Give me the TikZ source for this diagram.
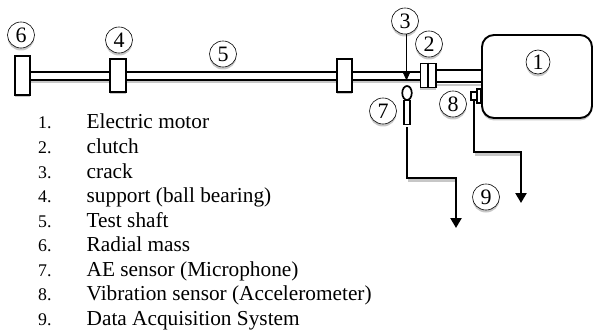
\documentclass[tikz,border=0pt]{standalone}
\usepackage{fontspec}
\setmainfont{Liberation Serif}
\usetikzlibrary{arrows.meta,shapes.geometric,shadows}
\tikzset{
  shd/.style={drop shadow={shadow xshift=0pt,shadow yshift=-2.5pt,fill=black,opacity=.22}},
  numc/.style={draw,ellipse,fill=white,line width=.6pt,inner sep=0pt,minimum width=27pt,minimum height=26pt,font=\fontsize{22}{22}\selectfont,shd},
  block/.style={draw,rectangle,fill=white,line width=1.7pt,inner sep=0pt,shd},
  shaftline/.style={line width=2pt},
  shaftshade/.style={line width=2pt,black!22},
  wire/.style={line width=2.3pt,-{Triangle[width=11pt,length=10pt]}},
  wshade/.style={line width=2.3pt,black!22},
  itemno/.style={anchor=base west,font=\fontsize{17.8}{18}\selectfont,inner sep=0pt},
  itemtx/.style={anchor=base west,font=\fontsize{21.3}{24}\selectfont,inner sep=0pt},
}
\begin{document}
\begin{tikzpicture}[x=1pt,y=-1pt]
\useasboundingbox (0,0) rectangle (593,331);
% blocks
\node[block,minimum width=15.5pt,minimum height=39pt] (mass) at (22.5,75.5) {};
\node[block,minimum width=15.5pt,minimum height=33pt] (supA) at (118,75.5) {};
\node[block,minimum width=15.5pt,minimum height=33pt] (supB) at (344.5,75.5) {};
\node[block,minimum width=15.5pt,minimum height=24pt] (clutch) at (428.2,75.5) {};
\node[draw,fill=white,line width=1.9pt,rounded corners=12pt,minimum width=110pt,minimum height=83pt,inner sep=0pt,shd] (motor) at (537,76.5) {};
% shaft shades
\draw[shaftshade] ([yshift=-6.5pt]mass.east) -- ([yshift=-6.5pt]supA.west);
\draw[shaftshade] ([yshift=-6.5pt]supA.east) -- ([yshift=-6.5pt]supB.west);
\draw[shaftshade] ([yshift=-6.5pt]supB.east) -- ([yshift=-6.5pt]clutch.west);
\draw[shaftshade] ([yshift=-9.5pt]clutch.east) -- ([yshift=-9.5pt]clutch.east -| motor.west);
% shaft lines
\draw[shaftline] ([yshift=3.5pt]mass.east) -- ([yshift=3.5pt]supA.west);
\draw[shaftline] ([yshift=-4.5pt]mass.east) -- ([yshift=-4.5pt]supA.west);
\draw[shaftline] ([yshift=3.5pt]supA.east) -- ([yshift=3.5pt]supB.west);
\draw[shaftline] ([yshift=-4.5pt]supA.east) -- ([yshift=-4.5pt]supB.west);
\draw[shaftline] ([yshift=3.5pt]supB.east) -- ([yshift=3.5pt]clutch.west);
\draw[shaftline] ([yshift=-5pt]supB.east) -- ([yshift=-5pt]clutch.west);
\draw[shaftline] ([yshift=5pt]clutch.east) -- ([yshift=5pt]clutch.east -| motor.west);
\draw[shaftline] ([yshift=-7pt]clutch.east) -- ([yshift=-7pt]clutch.east -| motor.west);
\draw[line width=1.5pt] (clutch.north) -- (clutch.south);
% sensors
\node[draw,fill=white,line width=1.7pt,ellipse,inner sep=0pt,minimum width=9.5pt,minimum height=14pt] (aehead) at (407,93) {};
\node[draw,fill=white,line width=1.3pt,inner sep=0pt,minimum width=6pt,minimum height=24pt] (aebody) at (407,112.5) {};
\node[draw,fill=white,line width=1.5pt,inner sep=0pt,minimum width=6pt,minimum height=8pt] (acc) at (474,96) {};
\node[draw,fill=white,line width=1.5pt,inner sep=0pt,minimum width=4pt,minimum height=14pt] (accbase) at (479,96) {};
% wires
\coordinate (tipA) at (456,228);
\coordinate (tipB) at (521,203);
\coordinate (startA) at (407,127);
\draw[wshade] (408,180.5) -- (456,180.5);
\draw[wshade] (475,154.5) -- (521,154.5);
\draw[wire] (startA) |- (456,178) -- (tipA);
\draw[wire] (acc.south) |- (521,152) -- (tipB);
% numbered circles
\node[numc] (n6) at (21,35) {6};
\node[numc] (n4) at (119,40) {4};
\node[numc] (n5) at (223,54) {5};
\node[numc] (n3) at (405,21) {3};
\node[numc] (n2) at (429,44) {2};
\node[numc,minimum width=24pt,minimum height=24pt] (n1) at (538,62) {1};
\node[numc] (n7) at (383,111) {7};
\node[numc] (n8) at (453,104) {8};
\node[numc] (n9) at (486,197) {9};
% crack pointer
\coordinate (crack) at (406.5,80.5);
\draw[line width=.8pt,-{Triangle[width=7pt,length=8pt]}] (n3.south -| crack) -- (crack);
% legend
\foreach \n/\t/\y in {1/Electric motor/129,2/clutch/153.5,3/crack/178,4/support (ball bearing)/202.5,5/Test shaft/227,6/Radial mass/251.5,7/AE sensor (Microphone)/276,8/Vibration sensor (Accelerometer)/300.5,9/Data Acquisition System/325}{
  \node[itemno] (no\n) at (38,\y) {\n.};
  \node[itemtx] (tx\n) at (86.5,\y) {\t};
}
\end{tikzpicture}
\end{document}
